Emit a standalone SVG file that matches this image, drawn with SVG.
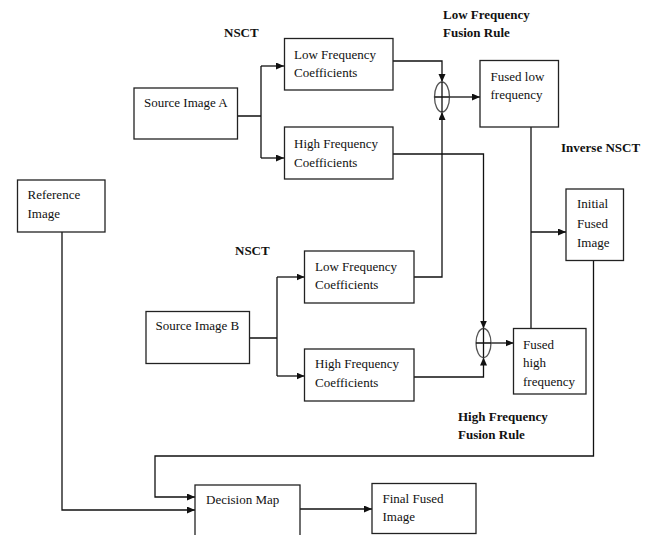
<svg xmlns="http://www.w3.org/2000/svg" width="650" height="535" viewBox="0 0 650 535">
<style>
.box{fill:#fff;stroke:#222;stroke-width:1.3}
.t{font-family:"Liberation Serif","Times New Roman",serif;font-size:13px;fill:#111}
.b{font-family:"Liberation Serif","Times New Roman",serif;font-size:13px;font-weight:bold;fill:#111}
.c{fill:none;stroke:#111;stroke-width:1.3}
.ell{fill:#fff;stroke:#555;stroke-width:1.3}
</style>
<defs>
<marker id="ah" markerUnits="userSpaceOnUse" markerWidth="9" markerHeight="8" refX="8" refY="3.5" orient="auto">
<path d="M0,0 L8,3.5 L0,7 z" fill="#111"/>
</marker>
</defs>
<rect width="650" height="535" fill="#fff"/>

<g id="labels">
<text class="b" x="224" y="37">NSCT</text>
<text class="b" x="235" y="255">NSCT</text>
<text class="b" x="443" y="19">Low Frequency</text>
<text class="b" x="443" y="37">Fusion Rule</text>
<text class="b" x="561" y="152">Inverse NSCT</text>
<text class="b" x="458" y="421">High Frequency</text>
<text class="b" x="458" y="439">Fusion Rule</text>
</g>

<g id="connectors">
<path class="c" d="M237,116 H261 M261,66 V158"/>
<path class="c" d="M261,66 H284" marker-end="url(#ah)"/>
<path class="c" d="M261,158 H284" marker-end="url(#ah)"/>
<path class="c" d="M249,338 H277 M277,277 V376"/>
<path class="c" d="M277,277 H304.5" marker-end="url(#ah)"/>
<path class="c" d="M277,376 H304.5" marker-end="url(#ah)"/>
<path class="c" d="M393,61 H442 V82" marker-end="url(#ah)"/>
<path class="c" d="M414,277 H442 V112" marker-end="url(#ah)"/>
<path class="c" d="M450,97 H480" marker-end="url(#ah)"/>
<path class="c" d="M393,154 H483.5 V328.5" marker-end="url(#ah)"/>
<path class="c" d="M414,377 H483.5 V357.5" marker-end="url(#ah)"/>
<path class="c" d="M491,343 H513.5" marker-end="url(#ah)"/>
<path class="c" d="M531,127 V328.5"/>
<path class="c" d="M531,232 H566" marker-end="url(#ah)"/>
<path class="c" d="M593.5,260.5 V456 H155 V497 H195" marker-end="url(#ah)"/>
<path class="c" d="M62,232 V510 H195" marker-end="url(#ah)"/>
<path class="c" d="M300,509 H372" marker-end="url(#ah)"/>
</g>

<g id="sum-low">
<ellipse class="ell" cx="442" cy="97" rx="7.5" ry="15"/>
<path class="c" d="M434.5,97 H449.5 M442,82 V112"/>
</g>
<g id="sum-high">
<ellipse class="ell" cx="483.5" cy="343" rx="7.5" ry="14.5"/>
<path class="c" d="M476,343 H491 M483.5,328.5 V357.5"/>
</g>

<g id="source-a">
<rect class="box" x="134" y="88" width="103.5" height="51"/>
<text class="t" x="144" y="107">Source Image A</text>
</g>
<g id="low-a">
<rect class="box" x="284.5" y="38.5" width="108.5" height="51.5"/>
<text class="t" x="294" y="59">Low Frequency</text>
<text class="t" x="294" y="77">Coefficients</text>
</g>
<g id="high-a">
<rect class="box" x="284.5" y="127" width="108.5" height="52"/>
<text class="t" x="294" y="148">High Frequency</text>
<text class="t" x="294" y="166.5">Coefficients</text>
</g>
<g id="fused-low">
<rect class="box" x="480" y="60.5" width="78.5" height="66.5"/>
<text class="t" x="490.5" y="80.5">Fused low</text>
<text class="t" x="490.5" y="99">frequency</text>
</g>
<g id="reference">
<rect class="box" x="17.5" y="180" width="87.5" height="52"/>
<text class="t" x="27.5" y="199">Reference</text>
<text class="t" x="27.5" y="217.5">Image</text>
</g>
<g id="initial-fused">
<rect class="box" x="566" y="189" width="57.5" height="71.5"/>
<text class="t" x="577" y="208">Initial</text>
<text class="t" x="577" y="227.5">Fused</text>
<text class="t" x="577" y="246.5">Image</text>
</g>
<g id="source-b">
<rect class="box" x="146" y="311.5" width="103.5" height="52"/>
<text class="t" x="155.5" y="330">Source Image B</text>
</g>
<g id="low-b">
<rect class="box" x="304.5" y="251" width="109.5" height="52"/>
<text class="t" x="315" y="270.5">Low Frequency</text>
<text class="t" x="315" y="289">Coefficients</text>
</g>
<g id="high-b">
<rect class="box" x="304.5" y="349" width="109.5" height="52"/>
<text class="t" x="315" y="368">High Frequency</text>
<text class="t" x="315" y="386.5">Coefficients</text>
</g>
<g id="fused-high">
<rect class="box" x="513.5" y="328.5" width="72.5" height="65.5"/>
<text class="t" x="523" y="348.5">Fused</text>
<text class="t" x="523" y="367">high</text>
<text class="t" x="523" y="385.5">frequency</text>
</g>
<g id="decision-map">
<rect class="box" x="195" y="485" width="105" height="55"/>
<text class="t" x="206" y="504">Decision Map</text>
</g>
<g id="final-fused">
<rect class="box" x="372" y="483.5" width="104" height="50"/>
<text class="t" x="382.5" y="502.5">Final Fused</text>
<text class="t" x="382.5" y="521">Image</text>
</g>
</svg>
